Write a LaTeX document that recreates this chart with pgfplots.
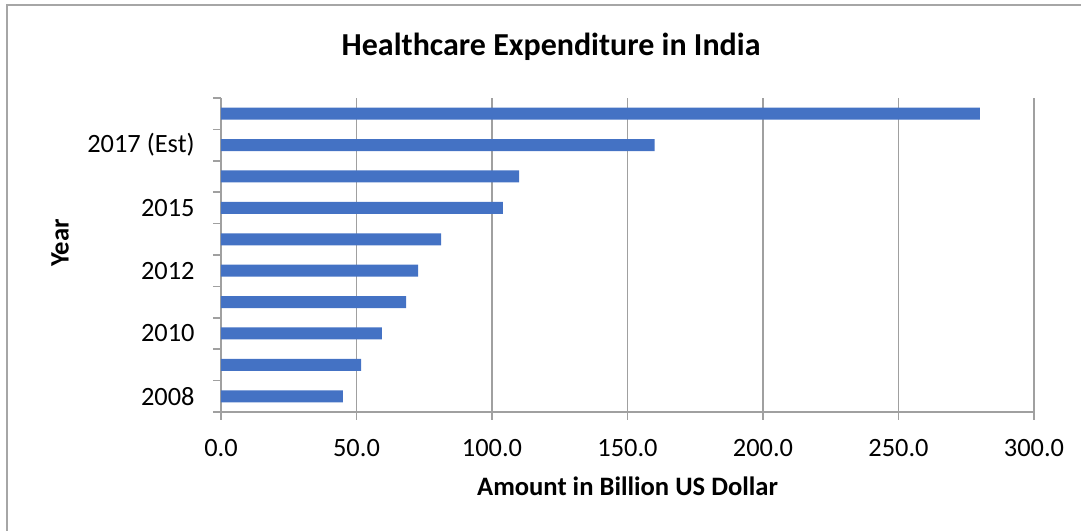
\documentclass[border=0pt]{standalone}
\usepackage{pgfplots}
\pgfplotsset{compat=1.18}
\usepackage{fontspec}
\setmainfont{Carlito}
\definecolor{barblue}{HTML}{4472C4}
\definecolor{gridgray}{HTML}{A0A0A0}
\definecolor{framegray}{HTML}{A6A6A6}
\begin{document}
\begin{tikzpicture}
\path[use as bounding box] (0,0) rectangle (540.5pt,265pt);
\draw[framegray, line width=0.9pt] (3.5pt,-2pt) -- (3.5pt,262.3pt) -- (545pt,262.3pt);
\begin{axis}[
  at={(110.5pt,59pt)}, anchor=south west,
  scale only axis, width=406.5pt, height=157pt,
  xbar, bar width=6pt, bar shift=0pt,
  xmin=0, xmax=300, ymin=-0.5, ymax=9.5,
  xtick={0,50,...,300},
  ytick={-0.5,0.5,...,9.5},
  y tick label as interval,
  yticklabels={2008,,2010,,2012,,2015,,2017 (Est)\hspace{3pt},},
  axis lines*=left,
  axis line style={gridgray, line width=0.8pt},
  tick align=outside,
  major tick length=4pt,
  tick style={gridgray, line width=0.8pt},
  xmajorgrids,
  major grid style={gridgray, line width=0.8pt},
  /pgf/number format/assume math mode=true,
  xticklabel={\pgfmathprintnumber[fixed,fixed zerofill,precision=1]{\tick}},
  xticklabel style={anchor=center, yshift=-14pt, font=\fontsize{13.2}{15}\selectfont},
  yticklabel style={anchor=east, inner sep=0pt, xshift=-9pt, font=\fontsize{13.2}{15}\selectfont},
  every axis title shift=0pt,
  title={\bfseries Healthcare Expenditure in India},
  title style={at={(rel axis cs:0.406,1.162)}, anchor=center, font=\fontsize{16}{19}\selectfont},
  xlabel={\bfseries Amount in Billion US Dollar},
  xlabel style={at={(rel axis cs:0.5,-0.238)}, anchor=center, font=\fontsize{13.3}{16}\selectfont},
  ylabel={\bfseries Year},
  ylabel style={at={(rel axis cs:-0.198,0.538)}, anchor=center, rotate=0, font=\fontsize{13.3}{16}\selectfont},
]
\addplot[fill=barblue, draw=none] coordinates {
  (45.0,0) (51.7,1) (59.4,2) (68.3,3) (72.7,4) (81.2,5) (104.0,6) (110.0,7) (160.0,8) (280.0,9)
};
\end{axis}
\end{tikzpicture}
\end{document}
